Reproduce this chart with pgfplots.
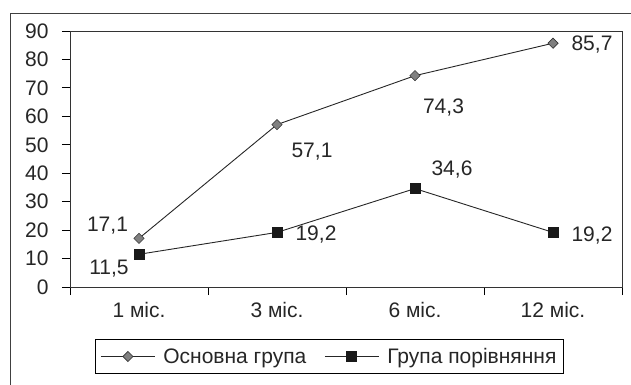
\documentclass[border=0pt]{standalone}
\usepackage{pgfplots}
\pgfplotsset{compat=1.18}
\usepackage{fontspec}
\setmainfont{Liberation Sans}
\begin{document}
\begin{tikzpicture}
\useasboundingbox (0,0) rectangle (631bp,-385bp);
\draw[line width=1bp, black!75] (10bp,-13bp) -- (640bp,-13bp);
\draw[line width=1bp, black!75] (10bp,-13bp) -- (10bp,-395bp);
\begin{axis}[
  at={(70bp,-287bp)}, anchor=south west,
  scale only axis, width=552bp, height=256bp,
  xmin=0.5, xmax=4.5, ymin=0, ymax=90,
  xtick={1,2,3,4},
  xticklabels={1 міс., 3 міс., 6 міс., 12 міс.},
  minor xtick={0.5,1.5,2.5,3.5,4.5},
  major x tick style={draw=none},
  ytick={0,10,...,90},
  tick align=outside,
  xtick pos=bottom, ytick pos=left,
  major tick length=8bp, minor tick length=8bp,
  tick style={black, line width=0.8bp},
  axis line style={black!80, line width=0.8bp},
  /pgf/number format/assume math mode=true,
  yticklabel style={font=\fontsize{21bp}{23bp}\selectfont, xshift=-10bp, text=black!85},
  xticklabel style={font=\fontsize{21bp}{23bp}\selectfont, yshift=-4bp, text=black!85},
  legend style={at={(0.47,-0.2715)}, anchor=center, draw=black, line width=0.8bp,
    font=\fontsize{21bp}{23bp}\selectfont, legend columns=2, text=black!85,
    /tikz/every odd column/.append style={column sep=6bp},
    /tikz/every even column/.append style={column sep=16bp},
    inner xsep=5bp, inner ysep=7bp},
  legend image code/.code={\draw[mark repeat=2,mark phase=2,#1] plot coordinates {(0bp,0bp) (27bp,0bp) (54bp,0bp)};},
  point meta=explicit symbolic,
  nodes near coords,
  visualization depends on={\thisrow{dx} \as \dx},
  visualization depends on={\thisrow{dy} \as \dy},
  nodes near coords style={anchor=center, xshift=\dx*1bp, yshift=\dy*1bp, text=black!85,
    font=\fontsize{21bp}{23bp}\selectfont},
]
\addplot[black!85, line width=0.9bp, mark=square*, mark size=3.6bp,
  mark options={rotate=45, fill=gray, draw=black!80, line width=0.6bp}]
  table[x=x, y=y, meta=lab] {
x y lab dx dy
1 17.1 17,1 -31.5 13
2 57.1 57,1 35 -27
3 74.3 74,3 28.5 -32
4 85.7 85,7 39 -1.5
};
\addlegendentry{Основна група}
\addplot[black!85, line width=0.9bp, mark=square*, mark size=5bp,
  mark options={fill=black!90, draw=black!90}]
  table[x=x, y=y, meta=lab] {
x y lab dx dy
1 11.5 11,5 -30 -14.5
2 19.2 19,2 39 -2.5
3 34.6 34,6 37 19
4 19.2 19,2 39 -3
};
\addlegendentry{Група порівняння}
\end{axis}
\end{tikzpicture}
\end{document}
